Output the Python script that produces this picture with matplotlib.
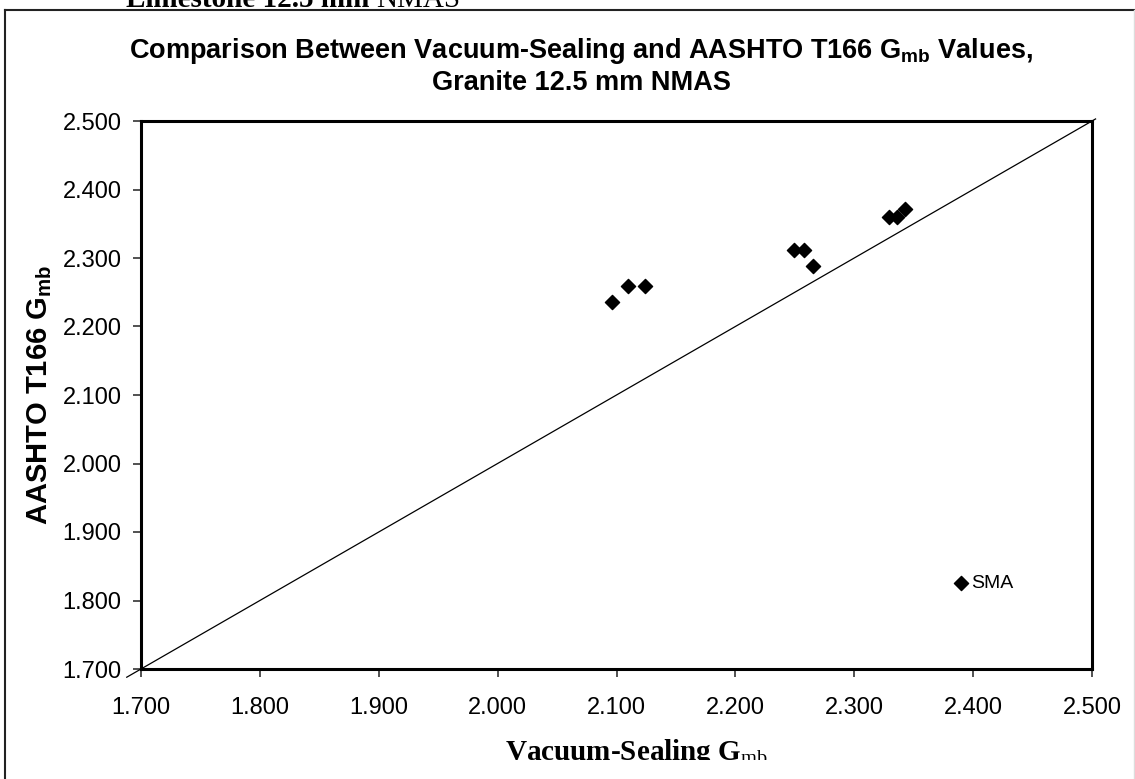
import matplotlib
matplotlib.use('Agg')
import matplotlib.pyplot as plt
from matplotlib.patches import Rectangle
from matplotlib.lines import Line2D

plt.rcParams['font.family'] = ['Liberation Sans', 'DejaVu Sans']
plt.rcParams['mathtext.fontset'] = 'custom'
plt.rcParams['mathtext.rm'] = 'Liberation Serif'
plt.rcParams['mathtext.sf'] = 'Liberation Sans:bold'

# datos
vacuum_gmb = [2.096, 2.110, 2.124, 2.249, 2.258, 2.265, 2.329, 2.336, 2.343, 2.390]
t166_gmb = [2.236, 2.259, 2.259, 2.312, 2.312, 2.288, 2.360, 2.360, 2.372, 1.825]
sma_x, sma_y = 2.390, 1.825
linea_igualdad = [1.688, 2.503]
ticks = [1.7, 1.8, 1.9, 2.0, 2.1, 2.2, 2.3, 2.4, 2.5]
tick_labels = ['%.3f' % t for t in ticks]

W, H = 1135, 779
fig = plt.figure(figsize=(W / 100, H / 100), dpi=100)
ax = fig.add_axes([141 / W, 1 - 669 / H, (1092 - 141) / W, (669 - 121) / H])

ax.plot(linea_igualdad, linea_igualdad, color='black', lw=0.9, clip_on=False, zorder=2)
ax.scatter(vacuum_gmb, t166_gmb, marker='D', s=52, color='black', zorder=3, clip_on=False)
ax.text(sma_x + 0.008, sma_y, 'SMA', fontsize=14, va='center', ha='left')

ax.set_xlim(1.7, 2.5)
ax.set_ylim(1.7, 2.5)
ax.set_xticks(ticks)
ax.set_xticklabels(tick_labels)
ax.set_yticks(ticks)
ax.set_yticklabels(tick_labels)
ax.tick_params(axis='both', direction='out', length=6, width=1.2, color='#333333',
               labelsize=17)
ax.tick_params(axis='y', pad=8)
ax.tick_params(axis='x', pad=14)
for s in ax.spines.values():
    s.set_linewidth(2.2)
    s.set_color('black')

# titulo
fig.text(581 / W, 1 - 66 / H,
         r'Comparison Between Vacuum-Sealing and AASHTO T166 G$_{\mathsf{mb}}$ Values,' + '\n'
         + 'Granite 12.5 mm NMAS',
         ha='center', va='center', fontsize=19.5, fontweight='bold', linespacing=1.2)

# ejes
fig.text(40 / W, 1 - 395 / H, r'AASHTO T166 G$_{\mathsf{mb}}$', rotation=90,
         ha='center', va='center', fontsize=21, fontweight='bold')
fig.text(637 / W, 1 - 760 / H, r'Vacuum-Sealing G$_{\mathrm{mb}}$', ha='center',
         va='baseline', fontsize=21, fontweight='bold', family='Liberation Serif')

# texto cortado arriba
t1 = fig.text(126 / W, 1 - 7 / H, 'Limestone 12.5 mm ', fontsize=21, fontweight='bold',
              family='Liberation Serif', va='baseline')
r = fig.canvas.get_renderer()
bb = t1.get_window_extent(renderer=r)
fig.text(bb.x1 / W, 1 - 7 / H, 'NMAS', fontsize=21, family='Liberation Serif',
         va='baseline')

# recuadro exterior
fig.add_artist(Line2D([5 / W, 5 / W], [0, 1 - 10 / H], transform=fig.transFigure,
                      color='#222222', lw=1.5))
fig.add_artist(Line2D([5 / W, 1134 / W], [1 - 10 / H, 1 - 10 / H], transform=fig.transFigure,
                      color='#222222', lw=1.5))
fig.add_artist(Line2D([1134 / W, 1134 / W], [0, 1 - 10 / H], transform=fig.transFigure,
                      color='#dddddd', lw=1))
fig.add_artist(Rectangle((8 / W, 0), 1120 / W, 19 / H, transform=fig.transFigure,
                         facecolor='white', edgecolor='none', zorder=10))

fig.savefig('out.png', dpi=100)
